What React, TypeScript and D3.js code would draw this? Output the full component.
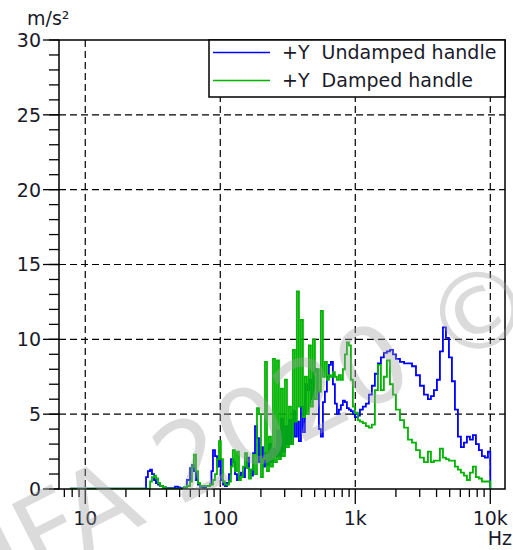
import React from "react";
import * as d3 from "d3";

// ---------- DATA ----------
const undampedFreq = [7.7, 28.2, 29.1, 30.2, 31.2, 32.3, 33.4, 34.6, 35.8, 37.6, 39.6, 46.2, 48.6, 50.3, 53.8, 56.6, 59.7, 61.7, 63.8, 66.1, 68.4, 70.8, 74.5, 78.4, 83.9, 86, 88.3, 91.4, 94.6, 97.8, 101, 104.7, 108.3, 112, 116, 120, 124, 128.5, 133, 137.6, 142.3, 147.3, 152.4, 157.7, 163.2, 168.8, 174.7, 180.8, 187, 193.5, 200.2, 207, 214.4, 221.8, 229.5, 237.4, 245.6, 254.2, 263, 272, 281.5, 291.2, 301.3, 311.8, 322.6, 333.8, 345.3, 357.3, 369.7, 382.5, 395.8, 409.5, 423.7, 438.4, 453.6, 469.3, 485.6, 502.4, 519.8, 537.8, 556.5, 575.8, 595.7, 616.4, 637.7, 659.8, 682.7, 706.3, 730.8, 756.2, 782.4, 809.5, 837.6, 866.6, 896.7, 927.8, 960, 993, 1045, 1082, 1138, 1198, 1261, 1327, 1397, 1471, 1548, 1629, 1715, 1806, 1900, 2000, 2143, 2297, 2456, 2630, 2815, 3013, 3225, 3452, 3633, 3824, 4025, 4236, 4459, 4693, 4939, 5198, 5471, 5758, 6060, 6379, 6713, 7066, 7437, 7827, 8238, 8671, 9126, 9605, 10000];
const undampedVal = [0.03, 0.8, 1.2, 1.3, 1.0, 0.6, 0.4, 0.3, 0.2, 0.1, 0.05, 0.15, 0.1, 0.05, 0.1, 0.6, 1.4, 1.6, 1.2, 0.6, 0.3, 0.15, 0.1, 0.2, 0.3, 1.2, 2.6, 2.2, 1.5, 2.0, 0.6, 0.3, 0.2, 0.4, 1.0, 2.0, 1.8, 1.0, 0.6, 0.9, 1.1, 0.8, 1.5, 2.1, 1.3, 0.9, 2.4, 4.2, 3.4, 1.8, 2.8, 1.5, 2.4, 1.6, 3.0, 1.8, 2.7, 2.2, 3.9, 2.2, 4.7, 2.5, 4.2, 3.0, 4.6, 3.0, 5.2, 3.5, 4.5, 3.2, 5.5, 3.8, 7.0, 6.6, 7.3, 6.0, 7.8, 8.0, 6.5, 4.0, 3.5, 5.8, 6.5, 7.5, 8.3, 8.5, 7.0, 5.7, 5.0, 5.3, 5.6, 5.9, 5.8, 5.4, 5.3, 5.2, 5.0, 4.8, 4.9, 5.3, 5.5, 5.7, 6.3, 6.9, 7.7, 8.4, 8.8, 9.1, 9.2, 9.3, 9.0, 8.7, 8.5, 8.4, 8.4, 8.2, 7.6, 6.9, 6.3, 6.0, 6.2, 6.6, 7.3, 9.2, 10.8, 10.1, 8.8, 7.2, 5.3, 3.5, 2.8, 3.1, 3.5, 3.3, 3.6, 3.0, 2.6, 2.2, 2.1, 2.5, 0];

const dampedFreq = [7.7, 29.1, 30.2, 31.2, 32.3, 33.4, 34.6, 35.8, 37.6, 39.6, 53.8, 56.6, 59.7, 61.7, 63.8, 66.1, 68.4, 70.8, 74.5, 78.4, 83.9, 88.3, 91.4, 94.6, 97.8, 101, 104.7, 108.3, 112, 116, 120, 124, 128.5, 133, 137.6, 142.3, 147.3, 152.4, 157.7, 163.2, 168.8, 174.7, 180.8, 187, 193.5, 200.2, 207, 214.4, 221.8, 229.5, 237.4, 245.6, 254.2, 263, 272, 281.5, 291.2, 301.3, 311.8, 322.6, 333.8, 345.3, 357.3, 369.7, 382.5, 395.8, 409.5, 423.7, 438.4, 453.6, 469.3, 485.6, 502.4, 519.8, 537.8, 556.5, 575.8, 595.7, 616.4, 637.7, 659.8, 682.7, 706.3, 730.8, 756.2, 782.4, 809.5, 837.6, 866.6, 896.7, 927.8, 960, 993, 1045, 1082, 1138, 1198, 1261, 1327, 1397, 1471, 1548, 1629, 1715, 1806, 1900, 2000, 2143, 2297, 2456, 2630, 2815, 3013, 3225, 3452, 3633, 3824, 4025, 4236, 4459, 4693, 4939, 5198, 5471, 5758, 6060, 6379, 6713, 7066, 7437, 7827, 8238, 8671, 9126, 9605, 10000];
const dampedVal = [0.03, 0.03, 0.5, 0.8, 0.9, 0.7, 0.4, 0.2, 0.1, 0.03, 0.1, 0.2, 0.5, 1.5, 2.3, 1.2, 0.4, 0.2, 0.2, 0.2, 0.3, 0.6, 1.0, 2.0, 3.2, 2.0, 0.5, 0.3, 0.3, 0.5, 1.5, 2.6, 1.2, 2.5, 0.6, 0.8, 1.5, 2.4, 1.4, 0.7, 1.3, 2.3, 1.0, 5.4, 5.0, 0.8, 2.0, 8.5, 1.2, 3.5, 1.5, 8.7, 1.8, 8.6, 2.0, 6.7, 2.2, 7.3, 2.8, 5.5, 3.0, 9.3, 4.5, 13.2, 5.5, 11.3, 4.8, 7.5, 5.0, 9.6, 5.5, 10.0, 6.0, 8.0, 6.5, 11.9, 7.5, 8.5, 7.3, 7.6, 7.5, 7.8, 7.5, 7.3, 7.6, 7.3, 8.0, 9.0, 9.8, 9.6, 7.3, 5.5, 5.1, 4.6, 4.5, 4.4, 4.2, 4.1, 4.3, 6.6, 8.3, 6.6, 7.5, 8.6, 7.0, 6.3, 5.3, 4.6, 4.1, 3.3, 3.1, 2.6, 2.1, 1.8, 2.5, 1.8, 1.9, 1.9, 2.7, 2.1, 2.0, 1.9, 1.9, 1.5, 1.3, 1.1, 0.9, 0.6, 1.1, 1.5, 0.8, 0.7, 0.5, 0.5, 0.5, 0];

const xMajorTicks = [10, 100, 1000, 10000];
const xMajorLabels = ["10", "100", "1k", "10k"];
const xMinorTicks = [7, 8, 9, 20, 30, 40, 50, 60, 70, 80, 90, 200, 300, 400, 500, 600, 700, 800, 900, 2000, 3000, 4000, 5000, 6000, 7000, 8000, 9000];
const yMajorTicks = [0, 5, 10, 15, 20, 25, 30];
const yMinorTicks = d3.range(0, 31);
const seriesNames = ["+Y  Undamped handle", "+Y  Damped handle"];
const seriesColors = ["#0000ff", "#00b400"];
const yUnit = "m/s²";
const xUnit = "Hz";
const watermark = "IFA 2020 ©NIOSH";

// ---------- LAYOUT ----------
const W = 513, H = 550;
const L = 59, R = 505, T = 40, B = 489;
const FONT = "'DejaVu Sans', Verdana, sans-serif";

export default function App() {
  const x = d3.scaleLog().domain([6.39, 12850]).range([L, R]);
  const y = d3.scaleLinear().domain([0, 30]).range([B, T]);

  const mk = (fs: number[], vs: number[]) =>
    d3.line<number>()
      .x((_, i) => x(fs[i]))
      .y((v) => y(v))
      .curve(d3.curveStepAfter)(vs) as string;

  const blue = mk(undampedFreq, undampedVal);
  const green = mk(dampedFreq, dampedVal);

  const textColor = "#1a1a2a";

  return (
    <svg width={W} height={H} style={{ position: "absolute", left: 0, top: 0, background: "#fff" }}>
      <rect x={0} y={0} width={W} height={H} fill="#fff" />
      <defs>
        <clipPath id="plot">
          <rect x={L} y={T} width={R - L} height={B - T} />
        </clipPath>
      </defs>

      {/* grid */}
      {xMajorTicks.map((t) => (
        <line key={"gx" + t} x1={x(t)} x2={x(t)} y1={T} y2={B} stroke="#000" strokeWidth={1.2} strokeDasharray="7 4" />
      ))}
      {yMajorTicks.filter((t) => t > 0 && t < 30).map((t) => (
        <line key={"gy" + t} x1={L} x2={R} y1={y(t)} y2={y(t)} stroke="#000" strokeWidth={1.2} strokeDasharray="7 4" />
      ))}

      {/* data */}
      <g clipPath="url(#plot)">
        <path d={blue} fill="none" stroke={seriesColors[0]} strokeWidth={1.8} />
        <path d={green} fill="none" stroke={seriesColors[1]} strokeWidth={1.8} />
      </g>

      {/* frame */}
      <rect x={L} y={T} width={R - L} height={B - T} fill="none" stroke="#000" strokeWidth={1.5} />

      {/* y axis ticks */}
      {yMinorTicks.map((t) => (
        <line key={"ym" + t} x1={L - 10} x2={L} y1={y(t)} y2={y(t)} stroke="#000" strokeWidth={1.3} />
      ))}
      {yMajorTicks.map((t) => (
        <g key={"yM" + t}>
          <line x1={L - 16} x2={L} y1={y(t)} y2={y(t)} stroke="#000" strokeWidth={1.3} />
          <text x={41} y={y(t)} dy="0.36em" textAnchor="end" fontFamily={FONT} fontSize={19} fill={textColor}>{t}</text>
        </g>
      ))}
      <text x={27} y={25} fontFamily={FONT} fontSize={19} fill={textColor}>{yUnit}</text>

      {/* x axis ticks */}
      {xMinorTicks.map((t) => (
        <line key={"xm" + t} x1={x(t)} x2={x(t)} y1={B} y2={B + 8} stroke="#000" strokeWidth={1.3} />
      ))}
      {xMajorTicks.map((t, i) => (
        <g key={"xM" + t}>
          <line x1={x(t)} x2={x(t)} y1={B} y2={B + 15} stroke="#000" strokeWidth={1.3} />
          <text x={x(t)} y={525} textAnchor="middle" fontFamily={FONT} fontSize={19} fill={textColor}>{xMajorLabels[i]}</text>
        </g>
      ))}
      <text x={512} y={545} textAnchor="end" fontFamily={FONT} fontSize={19} fill={textColor}>{xUnit}</text>

      {/* legend */}
      <rect x={209} y={T} width={R - 209} height={57} fill="#fff" stroke="#000" strokeWidth={1.5} />
      {seriesNames.map((n, i) => (
        <g key={n}>
          <line x1={213} x2={270} y1={52.5 + i * 28} y2={52.5 + i * 28} stroke={seriesColors[i]} strokeWidth={1.6} />
          <text x={282} y={59 + i * 28} fontFamily={FONT} fontSize={19} fill={textColor} style={{ whiteSpace: "pre" }}>{n}</text>
        </g>
      ))}

      {/* watermark */}
      <text x={10} y={592} transform="rotate(-27 10 592)" fontFamily="'DejaVu Sans', sans-serif" fontSize={106} fill="#a0a0a0" fillOpacity={0.38}>{watermark}</text>
    </svg>
  );
}
